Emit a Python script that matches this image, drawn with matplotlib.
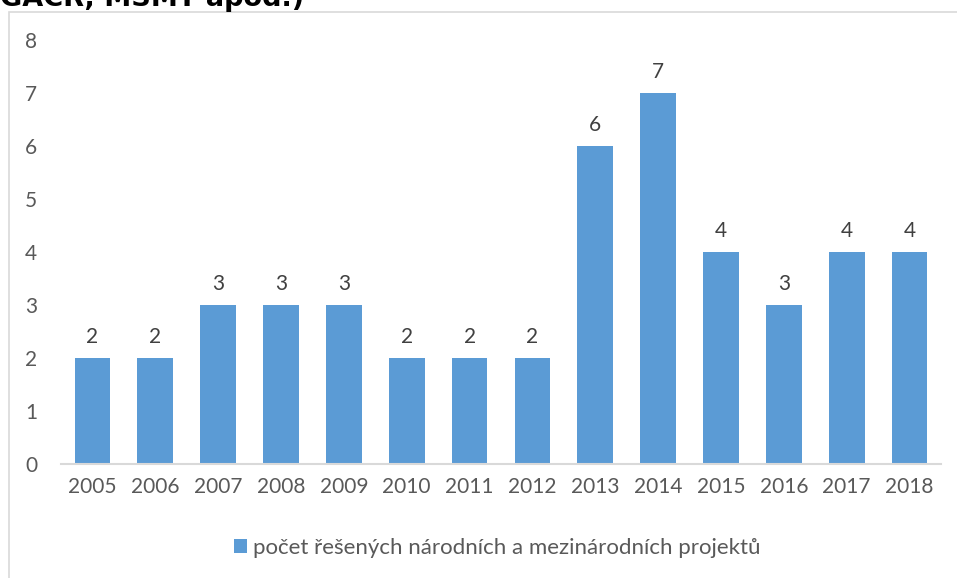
#!/usr/bin/env python3
import matplotlib
matplotlib.use("Agg")
import matplotlib.pyplot as plt
from matplotlib.patches import Rectangle

# data
years = ["2005", "2006", "2007", "2008", "2009", "2010", "2011",
         "2012", "2013", "2014", "2015", "2016", "2017", "2018"]
projects = [2, 2, 3, 3, 3, 2, 2, 2, 6, 7, 4, 3, 4, 4]
legend_label = "počet řešených národních a mezinárodních projektů"
title_tail = "GAČR, MŠMT apod.)"

BAR = "#5B9BD5"
TICK = "#595959"
LABEL = "#404040"
FS = 15

plt.rcParams["font.family"] = ["Lato", "DejaVu Sans"]

fig = plt.figure(figsize=(9.57, 5.78), dpi=100)
ax = fig.add_axes([61 / 957, 1 - 463.5 / 578, 880 / 957, 423.5 / 578])

x = list(range(len(years)))
bars = ax.bar(x, projects, width=0.57, color=BAR, label=legend_label, zorder=2)
ax.bar_label(bars, padding=8, fontsize=FS, color=LABEL)

ax.set_xlim(-0.5, len(years) - 0.5)
ax.set_ylim(0, 8)
ax.set_yticks(range(0, 9))
ax.set_xticks(x)
ax.set_xticklabels(years)
ax.tick_params(axis="both", length=0, labelsize=FS, labelcolor=TICK)
ax.tick_params(axis="x", pad=10)
ax.tick_params(axis="y", pad=17)

for side in ["top", "right", "left"]:
    ax.spines[side].set_visible(False)
ax.spines["bottom"].set_color("#D9D9D9")
ax.spines["bottom"].set_linewidth(1.5)

# legend below the plot
fig.legend(loc="center", bbox_to_anchor=(497 / 957, 1 - 548 / 578),
           frameon=False, fontsize=16, labelcolor=TICK,
           handlelength=0.6, handleheight=0.6, handletextpad=0.25)

# chart area border (runs off the right and bottom edges)
fig.patches.append(Rectangle((8.5 / 957, -0.1), 1.2, 1 - 11.5 / 578 + 0.1,
                             transform=fig.transFigure, fill=False,
                             edgecolor="#D9D9D9", linewidth=1.2))

# tail of the cut-off title above the chart
fig.text(0.0, 1 - 6 / 578, title_tail, fontsize=19.5, fontweight="bold",
         color="black", ha="left", va="baseline", family="DejaVu Sans")

plt.savefig("out.png", dpi=100)
